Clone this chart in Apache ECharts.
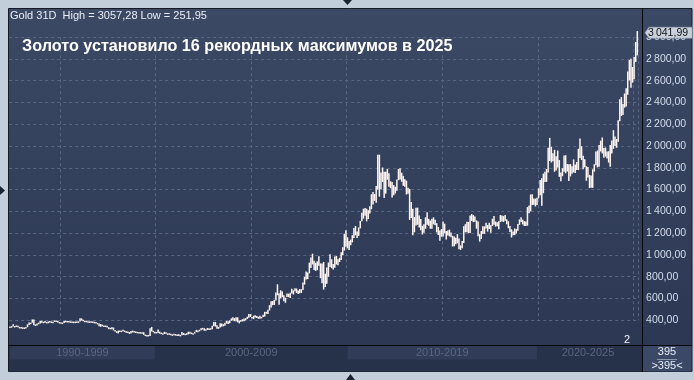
<!DOCTYPE html>
<html><head><meta charset="utf-8">
<script src="https://cdn.jsdelivr.net/npm/echarts@6/dist/echarts.min.js"></script>
<style>html,body{margin:0;padding:0;background:#c3cedb;overflow:hidden}#c{width:694px;height:380px}</style>
</head><body><div id="c"></div>
<script>
// ---- DATA ----
const startYear = 1992, startMonth = 5; // first monthly bar: May 1992
const lows = [
  334,336,343,334,341,336,330,330,
  326,326,326,336,355,367,377,354,346,352,363,369,
  377,378,377,370,373,380,379,375,387,385,383,376,
  373,372,374,388,382,384,381,380,381,381,383,385,
  387,397,394,390,390,381,380,385,379,378,370,367,
  345,340,347,338,339,334,318,319,317,306,297,283,
  279,291,292,301,291,288,287,273,278,288,289,285,
  284,284,278,279,266,257,253,252,254,297,289,278,
  280,282,277,273,270,273,275,270,270,265,263,268,
  262,256,255,254,262,265,263,265,270,275,272,271,
  277,291,289,300,307,315,302,303,311,311,312,318,
  345,342,322,321,334,341,343,349,369,364,372,395,
  399,390,391,381,371,385,389,390,399,411,422,430,
  418,410,425,421,413,414,417,429,434,460,457,490,
  516,538,540,581,629,543,601,612,573,560,614,612,
  603,646,636,665,650,640,647,651,677,727,775,777,
  830,880,912,862,853,860,900,786,740,681,705,734,
  800,888,878,865,882,912,905,935,952,996,1040,1074,
  1060,1044,1089,1115,1155,1180,1155,1175,1244,1308,1333,1360,
  1308,1329,1381,1419,1462,1497,1480,1600,1535,1602,1670,1522,
  1563,1691,1627,1613,1527,1548,1564,1589,1686,1692,1672,1635,
  1627,1555,1562,1321,1338,1180,1208,1271,1277,1251,1227,1187,
  1204,1240,1277,1268,1240,1240,1281,1273,1207,1183,1131,1167,
  1168,1197,1142,1178,1170,1162,1077,1080,1098,1106,1052,1046,
  1062,1110,1208,1208,1199,1200,1311,1301,1304,1241,1171,1122,
  1146,1191,1194,1242,1214,1238,1204,1265,1276,1260,1264,1236,
  1301,1306,1303,1314,1282,1246,1211,1160,1180,1182,1196,1221,
  1276,1302,1280,1266,1266,1269,1382,1400,1459,1460,1445,1459,
  1518,1548,1451,1567,1670,1671,1757,1863,1849,1860,1764,1775,
  1802,1717,1677,1723,1765,1750,1767,1678,1721,1746,1758,1753,
  1780,1780,1890,1872,1787,1805,1681,1711,1614,1617,1616,1765,
  1824,1804,1809,1950,1932,1893,1903,1885,1848,1810,1931,1974,
  2001,1984,2039,2228,2277,2286,2353,2364,2472,2604,2536,2583,
  2614,2772,2833
];
const highs = [
  341,345,363,346,352,349,338,338,
  334,333,338,362,378,378,407,406,362,370,378,392,
  395,386,392,384,387,393,389,386,398,397,393,384,
  381,378,392,395,393,392,390,388,387,387,388,389,
  418,416,405,396,395,391,389,391,388,385,384,375,
  369,365,358,351,351,348,335,330,336,333,310,299,
  305,305,304,313,305,299,296,291,301,305,300,296,
  293,291,290,289,290,268,264,265,325,338,303,293,
  292,315,295,286,281,293,289,279,279,276,270,275,
  272,268,270,265,291,283,276,281,294,293,286,279,
  293,311,305,312,327,330,325,316,329,325,326,350,
  384,383,353,339,373,370,363,377,393,391,399,417,
  427,419,428,427,395,401,409,415,418,431,456,456,
  430,441,446,439,431,442,431,450,477,477,496,538,
  575,576,587,654,730,648,675,665,630,607,646,643,
  653,690,674,694,691,674,686,684,747,797,848,838,
  929,975,1011,947,928,941,987,922,920,935,826,884,
  930,1006,960,916,985,991,960,973,1025,1070,1195,1227,
  1162,1128,1140,1181,1248,1265,1214,1252,1312,1387,1424,1431,
  1424,1411,1447,1557,1577,1559,1632,1920,1921,1758,1803,1763,
  1764,1790,1750,1677,1669,1641,1627,1692,1790,1796,1755,1726,
  1694,1682,1617,1606,1487,1424,1348,1433,1434,1361,1329,1267,
  1281,1345,1392,1331,1315,1332,1345,1324,1291,1256,1224,1238,
  1307,1287,1220,1225,1232,1205,1175,1170,1157,1191,1150,1088,
  1127,1263,1282,1304,1303,1362,1375,1366,1352,1317,1307,1190,
  1220,1264,1262,1295,1275,1296,1273,1332,1358,1306,1299,1309,
  1366,1362,1356,1366,1326,1309,1265,1235,1214,1243,1237,1284,
  1326,1346,1324,1310,1306,1439,1453,1555,1557,1519,1517,1525,
  1611,1689,1704,1747,1765,1789,1984,2075,1992,1933,1965,1907,
  1959,1871,1756,1797,1913,1916,1834,1832,1834,1814,1877,1831,
  1853,1975,2070,1998,1910,1879,1814,1807,1735,1730,1786,1833,
  1949,1959,2009,2049,2079,1983,1987,1949,1953,2009,2052,2146,
  2088,2065,2236,2431,2450,2387,2483,2531,2685,2790,2801,2726,
  2817,2956,3057
];
const decadeLabels = ['1990-1999','2000-2009','2010-2019','2020-2025'];
const decadeStart  = ['1992-05','2000-01','2010-01','2020-01'];
const decadeEnd    = ['1999-12','2009-12','2019-12','2025-03'];
const decadeShaded = [true,false,true,false];
const yMin = 400, yMax = 3000, yStep = 200;
const lastClose = 3041.99;
const headerText = 'Gold 31D  High = 3057,28 Low = 251,95';
const titleText = 'Золото установило 16 рекордных максимумов в 2025';
const barCountText = '395', barCountText2 = '>395<';
const cornerText = '2';

// ---- BUILD ----
const months = [];
for (let i = 0; i < lows.length; i++) {
  const m = startMonth - 1 + i;
  months.push((startYear + Math.floor(m / 12)) + '-' + String(m % 12 + 1).padStart(2, '0'));
}
const rangeData = lows.map((l, i) => [i, l, highs[i]]);
function fmt(v) {
  const s = v.toFixed(2).split('.');
  return s[0].replace(/\B(?=(\d{3})+(?!\d))/g, '\u2009') + ',' + s[1];
}
const FONT = '"Liberation Sans", Arial, sans-serif';
const AXFONT = '"Liberation Sans Narrow", "Liberation Sans", Arial, sans-serif';
const barColor = '#fff6f3';
const gridDash = '#586683';

const chart = echarts.init(document.getElementById('c'), null, {renderer: 'canvas'});
const option = {
  backgroundColor: '#c3cedb',
  animation: false,
  textStyle: {fontFamily: FONT},
  grid: [
    {left: 9.2, right: 55.9, top: 37.2, bottom: 59.8},
    {left: 9.2, right: 55.9, top: 346, height: 25}
  ],
  xAxis: [
    {
      type: 'category', data: months, boundaryGap: true,
      axisLine: {show: false}, axisTick: {show: false}, axisLabel: {show: false},
      splitLine: {
        show: true,
        interval: (idx, val) => val.endsWith('-01') && (+val.slice(0, 4)) % 5 === 0,
        lineStyle: {color: gridDash, type: [3, 3], width: 1}
      }
    },
    {type: 'category', data: months, gridIndex: 1, show: false, boundaryGap: true}
  ],
  yAxis: [
    {
      type: 'value', position: 'right', min: yMin, max: yMax, interval: yStep,
      axisLine: {show: false}, axisTick: {show: false},
      axisLabel: {color: '#d3ddee', fontSize: 10.5, margin: 8, formatter: v => fmt(v), fontFamily: AXFONT},
      splitLine: {show: true, lineStyle: {color: gridDash, type: [3, 3], width: 1}}
    },
    {type: 'value', gridIndex: 1, min: 0, max: 1, show: false}
  ],
  series: [
    {
      type: 'custom', data: rangeData, clip: false, z: 5,
      encode: {x: 0, y: [1, 2]},
      renderItem: (params, api) => {
        const i = api.value(0);
        const lo = api.coord([i, api.value(1)]);
        const hi = api.coord([i, api.value(2)]);
        const w = 1.5;
        return {type: 'rect', shape: {x: lo[0] - w / 2, y: hi[1], width: w, height: Math.max(1.5, lo[1] - hi[1])},
                style: {fill: barColor}};
      }
    },
    {
      type: 'line', xAxisIndex: 1, yAxisIndex: 1, data: [], silent: true,
      markArea: {
        silent: true,
        data: decadeLabels.map((lab, i) => [
          {xAxis: decadeStart[i], yAxis: 0.46, name: lab,
           itemStyle: {color: decadeShaded[i] ? '#303c58' : 'rgba(0,0,0,0)'},
           label: {show: true, position: 'inside', color: '#59667e', fontSize: 11, fontFamily: FONT, formatter: lab}},
          {xAxis: decadeEnd[i], yAxis: 1}
        ])
      }
    }
  ],
  graphic: {elements: [
    {type: 'rect', z: -10, silent: true, shape: {x: 8.5, y: 8.5, width: 683.5, height: 363},
     style: {fill: new echarts.graphic.LinearGradient(0, 0, 0, 1, [{offset: 0, color: '#3c4964'}, {offset: 1, color: '#2b3752'}]), stroke: '#151a24', lineWidth: 1}},
    {type: 'rect', z: -9, silent: true, shape: {x: 9, y: 346, width: 633, height: 25.5}, style: {fill: '#26314a'}},
    {type: 'rect', z: -9, silent: true, shape: {x: 643, y: 346, width: 48.5, height: 25.5}, style: {fill: '#3c4966'}},
    {type: 'line', z: 50, silent: true, shape: {x1: 642.5, y1: 8, x2: 642.5, y2: 372}, style: {stroke: '#05070a', lineWidth: 1}},
    {type: 'line', z: 50, silent: true, shape: {x1: 8, y1: 345.5, x2: 692, y2: 345.5}, style: {stroke: '#05070a', lineWidth: 1}},
    {type: 'text', z: 50, silent: true, left: 10, top: 10, style: {text: headerText, fill: '#e9eef6', font: '11px ' + FONT}},
    {type: 'text', z: 50, silent: true, left: 22, top: 39, style: {text: titleText, fill: '#ffffff', font: 'bold 16.2px ' + FONT}},
    {type: 'text', z: 50, silent: true, left: 624, top: 334, style: {text: cornerText, fill: '#f2f5fa', font: '11px ' + FONT}},
    {type: 'text', z: 50, silent: true, x: 667, y: 352, style: {text: barCountText, fill: '#e6ecf5', font: '11px ' + FONT, align: 'center', verticalAlign: 'middle'}},
    {type: 'line', z: 50, silent: true, shape: {x1: 657, y1: 359.5, x2: 677, y2: 359.5}, style: {stroke: '#8a97ad', lineWidth: 1}},
    {type: 'text', z: 50, silent: true, x: 667, y: 365.5, style: {text: barCountText2, fill: '#e6ecf5', font: '11px ' + FONT, align: 'center', verticalAlign: 'middle'}},
    {type: 'polygon', z: 50, silent: true, shape: {points: [[343, 0], [352, 0], [347.5, 5]]}, style: {fill: '#1c2330'}},
    {type: 'polygon', z: 50, silent: true, shape: {points: [[346, 380], [355, 380], [350.5, 374]]}, style: {fill: '#1c2330'}},
    {type: 'polygon', z: 50, silent: true, shape: {points: [[0, 186], [0, 195], [5, 190.5]]}, style: {fill: '#1c2330'}}
  ]}
};
chart.setOption(option);

// last value tag on the price axis
const ty = chart.convertToPixel({yAxisIndex: 0}, lastClose);
chart.setOption({graphic: {elements: option.graphic.elements.concat([
  {type: 'polygon', z: 60, silent: true, shape: {points: [[645, ty], [649, ty - 5.5], [692, ty - 5.5], [692, ty + 5.5], [649, ty + 5.5]]},
   style: {fill: '#c9d1dc', stroke: '#9aa5b5', lineWidth: 0.5}},
  {type: 'text', z: 61, silent: true, x: 648, y: ty, style: {text: fmt(lastClose), fill: '#111', font: '10.5px ' + AXFONT, verticalAlign: 'middle'}}
])}});
</script></body></html>
